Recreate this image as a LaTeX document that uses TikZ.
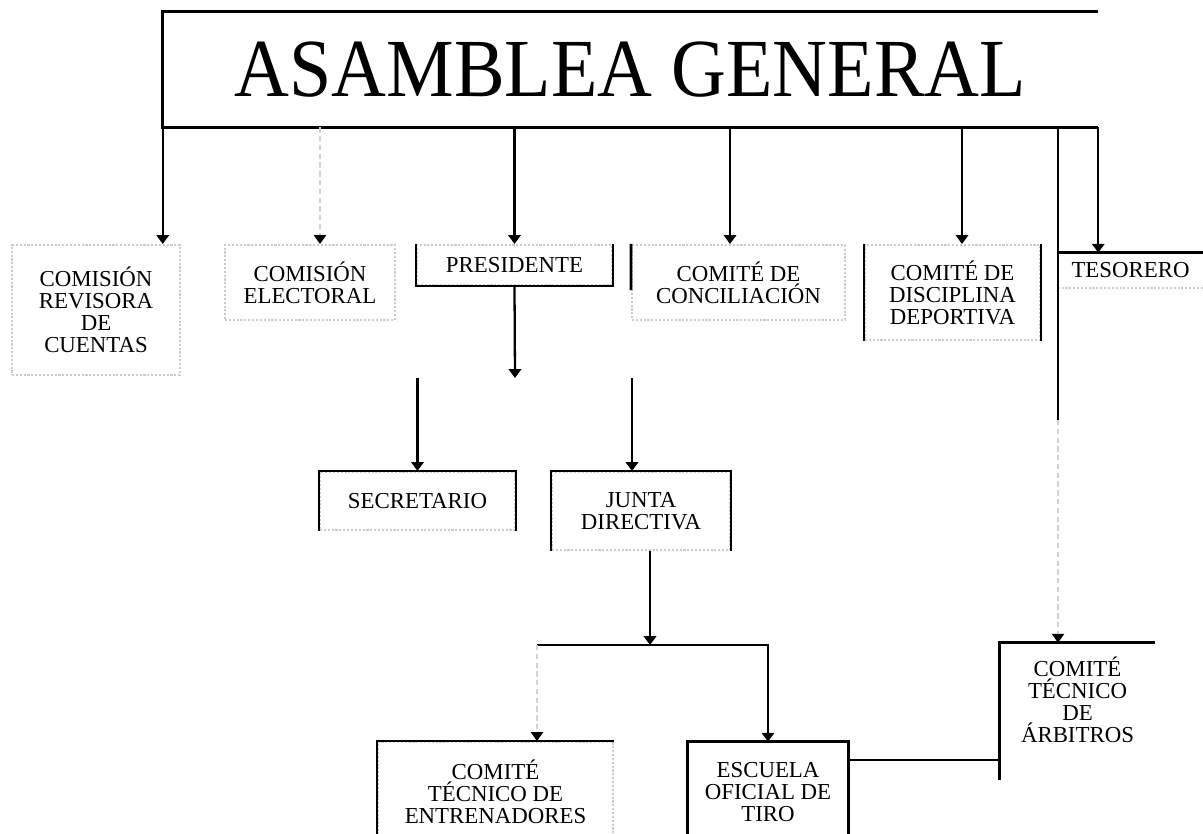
\documentclass[tikz,border=0pt]{standalone}
\usepackage{fontspec}
\setmainfont{Liberation Serif}
\usetikzlibrary{arrows.meta,calc}

\begin{document}
\begin{tikzpicture}[x=0.02cm,y=-0.02cm,
    box/.style={inner sep=0pt,align=center,font=\fontsize{13}{12.5}\selectfont},
    faint/.style={draw=gray!40,densely dotted,line width=1.2pt},
    side/.style={line width=1.6pt},
    conn/.style={line width=1.3pt},
    arr/.style={conn,-{Triangle[width=7pt,length=5pt]}},
    fconn/.style={draw=gray!35,densely dashed,line width=0.8pt,-{Triangle[width=7pt,length=5pt,black]}}]
    \useasboundingbox (0,0) rectangle (1203,834);

    \node[box,minimum width=18.7cm,minimum height=2.3cm] (asam) at (630.5,69.5)
        {\fontsize{47}{47}\selectfont\scalebox{0.92}[1]{ASAMBLEA GENERAL}};

    \node[box,faint,minimum width=3.36cm,minimum height=2.6cm] (rev) at (96,310) {COMISIÓN\\REVISORA\\DE\\CUENTAS};
    \node[box,faint,minimum width=3.4cm,minimum height=1.5cm] (elec) at (310,282.5) {COMISIÓN\\ELECTORAL};
    \node[box,faint,minimum width=3.9cm,minimum height=0.8cm] (pres) at (514.5,265) {PRESIDENTE};
    \node[box,faint,minimum width=4.26cm,minimum height=1.5cm] (conc) at (738.5,282.5) {COMITÉ DE\\CONCILIACIÓN};
    \node[box,faint,minimum width=3.5cm,minimum height=1.9cm] (disc) at (952.5,292.5) {COMITÉ DE\\DISCIPLINA\\DEPORTIVA};
    \node[box,minimum width=2.9cm,minimum height=0.7cm] (teso) at (1130.5,270.5) {TESORERO};
    \node[box,faint,minimum width=3.9cm,minimum height=1.16cm] (secr) at (417.5,501) {SECRETARIO};
    \node[box,faint,minimum width=3.56cm,minimum height=1.56cm] (junta) at (641,511) {JUNTA\\DIRECTIVA};
    \node[box,faint,minimum width=4.7cm,minimum height=2.0cm] (entr) at (495.5,792) {COMITÉ\\TÉCNICO DE\\ENTRENADORES};
    \node[box,minimum width=3.2cm,minimum height=2.0cm] (escu) at (768,792) {ESCUELA\\OFICIAL DE\\TIRO};
    \node[box,minimum width=3.1cm,minimum height=2.28cm] (arb) at (1077.5,700) {COMITÉ\\TÉCNICO\\DE\\ÁRBITROS};

    \draw[side] (asam.north east) -- (asam.north west) -- (asam.south west) -- (asam.south east);
    \draw[side] (pres.north west) -- (pres.south west) -- (pres.south east) -- (pres.north east);
    \draw[side] (conc.north west) -- ($(conc.north west)!0.6!(conc.south west)$);
    \draw[side] (disc.north west) -- (disc.south west);
    \draw[side] (disc.north east) -- (disc.south east);
    \draw[side] (teso.north west) -- (teso.north east);
    \draw[faint] (teso.south west) -- (teso.south east);
    \draw[side] (secr.south west) -- (secr.north west) -- (secr.north east) -- (secr.south east);
    \draw[side] (junta.south west) -- (junta.north west) -- (junta.north east) -- (junta.south east);
    \draw[side] (entr.south west) -- (entr.north west) -- (entr.north east);
    \draw[side] (escu.south west) -- (escu.north west) -- (escu.north east) -- (escu.south east);
    \draw[side] ($(arb.south west)+(0,23)$) -- (arb.north west) -- (arb.north east);

    \coordinate (elecin) at ($(elec.north)+(10,0)$);
    \coordinate (concin) at ($(conc.north)+(-8.5,0)$);
    \coordinate (discin) at ($(disc.north)+(9.5,0)$);
    \coordinate (arbin) at ($(arb.north)+(-19.5,0)$);
    \coordinate (amid) at (1058,420);
    \coordinate (pbar) at (515,378);
    \coordinate (juntain) at ($(junta.north)+(-9,0)$);
    \coordinate (juntaout) at ($(junta.south)+(9,0)$);
    \coordinate (jbar) at (650,645);
    \coordinate (entrin) at ($(entr.north)+(41.5,0)$);
    \coordinate (escuout) at ($(escu.north east)+(0,18)$);

    \draw[arr] (asam.south west) -- (asam.south west |- rev.north);
    \draw[fconn] (elecin |- asam.south) -- (elecin);
    \draw[arr] (asam.south -| pres.north) -- (pres.north);
    \draw[arr] (concin |- asam.south) -- (concin);
    \draw[arr] (discin |- asam.south) -- (discin);
    \draw[conn] (arbin |- asam.south) -- (arbin |- amid);
    \draw[fconn] (arbin |- amid) -- (arbin);
    \draw[arr] (asam.south east) -- (asam.south east |- teso.north);

    \draw[arr] (pres.south) -- (pbar);
    \draw[arr] (pbar -| secr.north) -- (secr.north);
    \draw[arr] (pbar -| juntain) -- (juntain);
    \draw[arr] (juntaout) -- (jbar);
    \draw[arr] (jbar -| entrin) -- (jbar -| escu.north) -- (escu.north);
    \draw[fconn] (jbar -| entrin) -- (entrin);
    \draw[conn] (escuout) -- (escuout -| arb.west);
\end{tikzpicture}
\end{document}
